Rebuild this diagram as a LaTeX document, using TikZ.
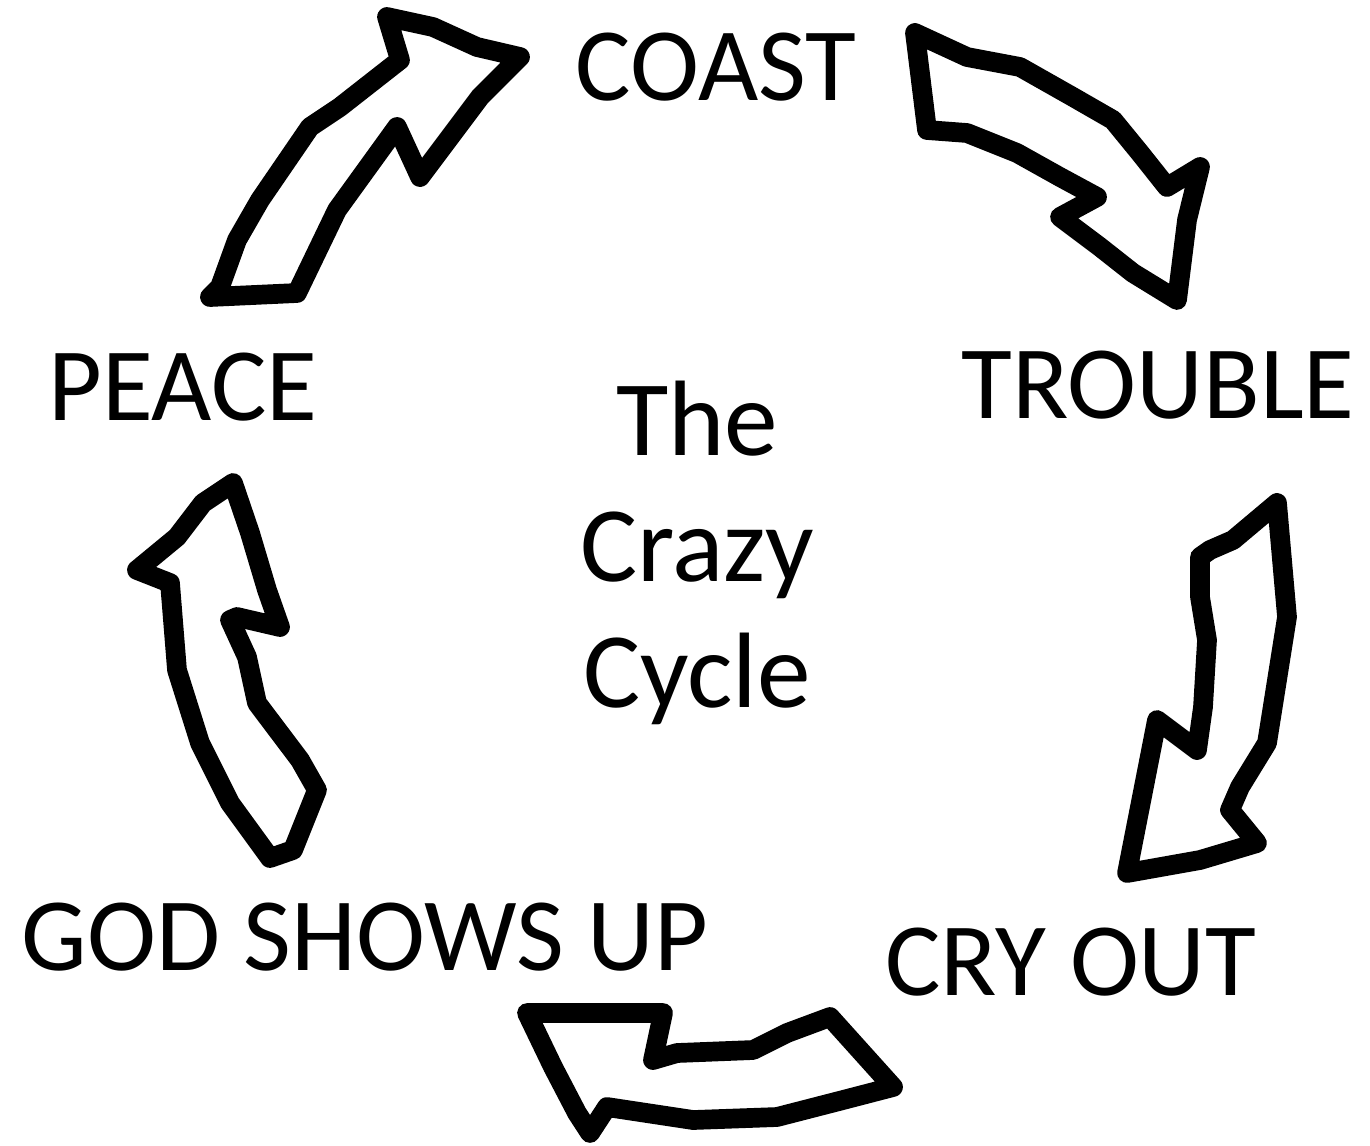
\documentclass[tikz,border=0pt]{standalone}
\usepackage{fontspec}
\setmainfont{Carlito}
\begin{document}
\begin{tikzpicture}[x=0.01cm, y=-0.01cm,
    stage/.style={font=\fontsize{29.6}{36.1}\selectfont, anchor=base, inner sep=0pt},
    sketch/.style={line width=5.6pt, line join=round, line cap=round}
]
    \useasboundingbox (0,0) rectangle (1370,1145);
    % Stage labels round the cycle
    \node[stage] (coast) at (716,100) {COAST};
    \node[stage] (trouble) at (1158,418) {TROUBLE};
    \node[stage] (cryout) at (1071,995) {CRY OUT};
    \node[stage] (godshows) at (365,970) {GOD SHOWS UP};
    \node[stage] (peace) at (183,420) {PEACE};
    % Title in the middle (base = last line)
    \node[stage, align=center, font=\fontsize{30.5}{35.8}\selectfont] (title) at (697,707) {The\\Crazy\\Cycle};
    % Hand drawn arrows
    \draw[sketch] (210,297) -- (297,293) -- (337,210) -- (397,127) -- (420,177)
        -- (480,97) -- (520,57) -- (477,47) -- (433,27) -- (387,17) -- (400,60)
        -- (340,107) -- (310,127) -- (260,200) -- (237,240) -- (220,287) -- cycle;
    \draw[sketch] (915,33) -- (967,57) -- (1020,67) -- (1073,97) -- (1113,120)
        -- (1140,153) -- (1167,187) -- (1200,167) -- (1187,220) -- (1177,300)
        -- (1133,273) -- (1100,247) -- (1060,217) -- (1097,197) -- (1060,177)
        -- (1017,153) -- (967,133) -- (927,130) -- cycle;
    \draw[sketch] (1277,503) -- (1287,617) -- (1267,743) -- (1240,787) -- (1230,810)
        -- (1257,843) -- (1200,860) -- (1127,873) -- (1157,720) -- (1197,750)
        -- (1203,707) -- (1207,640) -- (1200,597) -- (1200,557) -- (1210,550)
        -- (1233,540) -- cycle;
    \draw[sketch] (527,1013) -- (663,1013) -- (653,1060) -- (677,1053) -- (753,1050)
        -- (787,1033) -- (830,1017) -- (893,1087) -- (843,1100) -- (777,1117)
        -- (693,1120) -- (607,1107) -- (590,1133) -- (577,1113) -- (553,1067) -- cycle;
    \draw[sketch] (233,483) -- (203,503) -- (177,537) -- (137,570) -- (170,583)
        -- (177,670) -- (200,743) -- (230,803) -- (270,858) -- (293,850)
        -- (317,790) -- (300,760) -- (257,703) -- (247,657) -- (230,620)
        -- (237,617) -- (280,627) -- (267,590) -- (250,533) -- cycle;
\end{tikzpicture}
\end{document}
